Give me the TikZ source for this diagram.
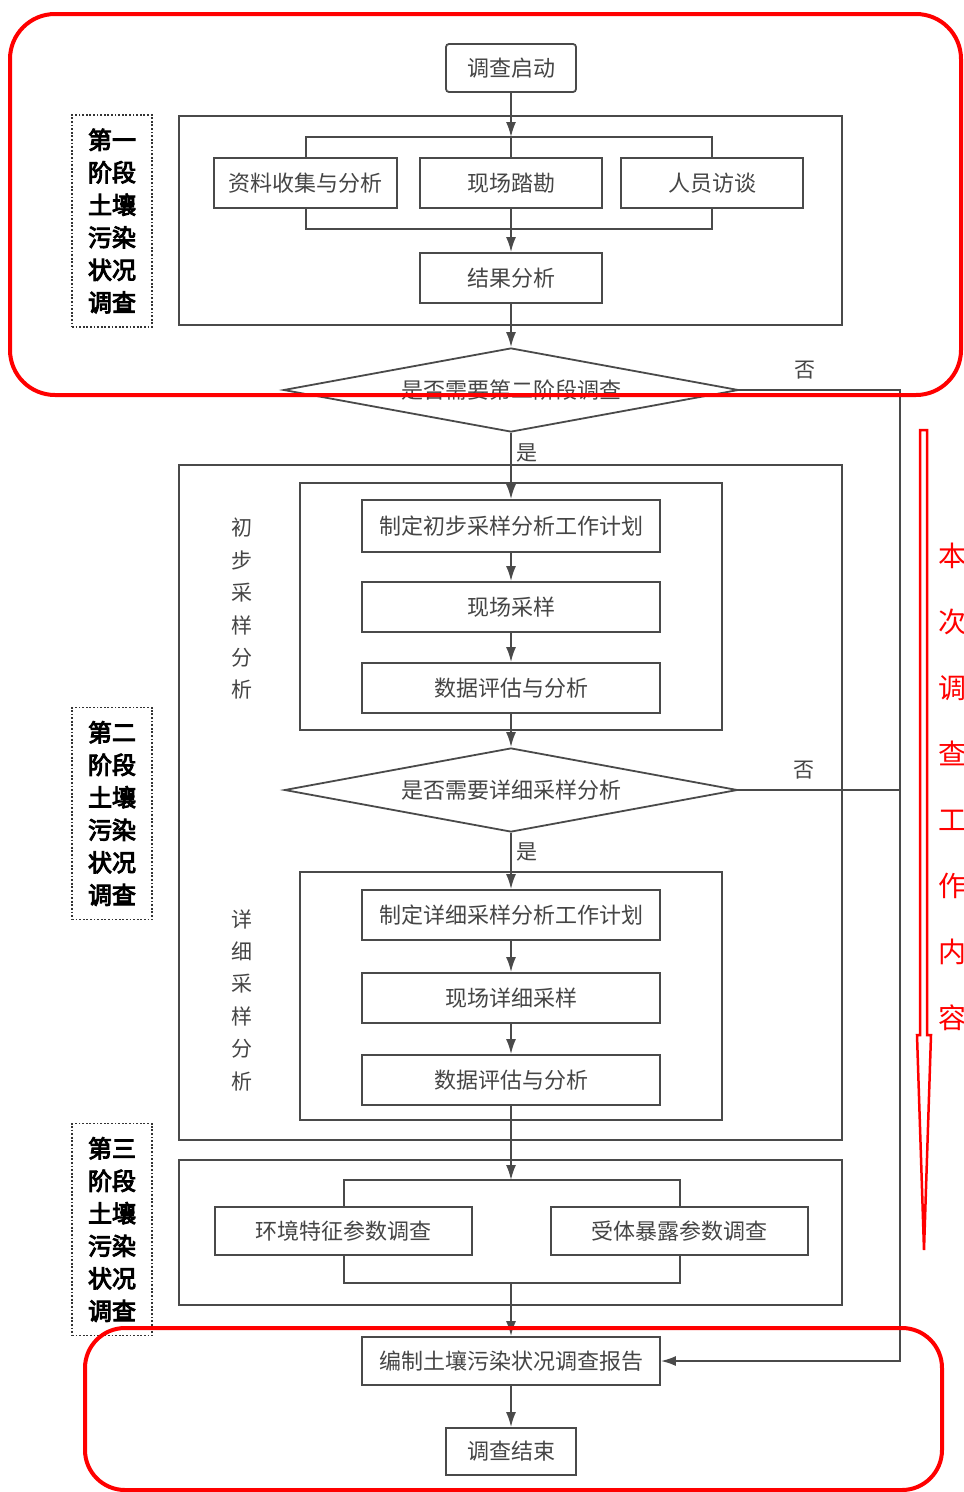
\documentclass[tikz,border=0pt]{standalone}
\usepackage{fontspec}
\setmainfont{Noto Sans CJK SC}
\newfontfamily\cjkb[FakeBold=4]{Noto Sans CJK SC}
\usetikzlibrary{shapes.geometric,arrows.meta}
\definecolor{lncol}{HTML}{4A4A4A}
\definecolor{txcol}{HTML}{454545}
\definecolor{rdcol}{HTML}{FF0000}
\begin{document}
\begin{tikzpicture}[x=1pt,y=-1pt,
  box/.style={draw=lncol, line width=1.8pt, fill=white, text=txcol,
    font=\fontsize{22}{26}\selectfont, inner sep=0pt, minimum height=50pt, minimum width=298pt},
  framebox/.style={draw=lncol, line width=1.8pt, inner sep=0pt},
  decision/.style={draw=lncol, line width=1.8pt, fill=white, diamond, aspect=5.4, inner sep=0pt,
    minimum width=455pt, minimum height=84pt, text=txcol, font=\fontsize{22}{26}\selectfont},
  lin/.style={draw=lncol, line width=1.8pt},
  arr/.style={draw=lncol, line width=1.8pt, -{Latex[length=15pt,width=10pt]}},
  stagelab/.style={draw=black!80, line width=1.8pt, dash pattern=on 1.8pt off 1.8pt,
    minimum width=80pt, minimum height=212pt, inner sep=0pt, align=center,
    font=\cjkb\fontsize{24}{32.5}\selectfont},
  vlab/.style={align=center, text=txcol, font=\fontsize{21}{32.4}\selectfont, inner sep=0pt},
  yn/.style={text=txcol, font=\fontsize{21}{24}\selectfont, inner sep=0pt},
  redbox/.style={draw=rdcol, line width=4pt}
]
\useasboundingbox (0,0) rectangle (964,1492);
\fill[white] (0,0) rectangle (964,1492);

% frames
\node[framebox, minimum width=663pt, minimum height=209pt] (s1) at (510.5,220.5) {};
\node[framebox, minimum width=663pt, minimum height=675pt] (s2) at (510.5,802.5) {};
\node[framebox, minimum width=422pt, minimum height=247pt] (in1) at (511,606.5) {};
\node[framebox, minimum width=422pt, minimum height=248pt] (in2) at (511,996) {};
\node[framebox, minimum width=663pt, minimum height=145pt] (s3) at (510.5,1232.5) {};

% brackets
\node[framebox, minimum width=406pt, minimum height=92pt] (br1) at (509,183) {};
\node[framebox, minimum width=336pt, minimum height=103pt] (br3) at (512,1231.5) {};

% nodes
\node[box, minimum width=130pt, minimum height=48pt, rounded corners=3pt] (start) at (511,68) {调查启动};
\node[box, minimum width=183pt] (zl) at (305.5,183) {资料收集与分析};
\node[box, minimum width=182pt] (xc) at (511,183) {现场踏勘};
\node[box, minimum width=182pt] (ry) at (712,183) {人员访谈};
\node[box, minimum width=182pt] (jg) at (511,278) {结果分析};
\node[decision] (d1) at (511,390) {是否需要第二阶段调查};
\node[box, minimum height=52pt] (p1) at (511,526) {制定初步采样分析工作计划};
\node[box] (p2) at (511,607) {现场采样};
\node[box] (p3) at (511,688) {数据评估与分析};
\node[decision, minimum width=453pt] (d2) at (511,790) {是否需要详细采样分析};
\node[box] (q1) at (511,915) {制定详细采样分析工作计划};
\node[box] (q2) at (511,998) {现场详细采样};
\node[box] (q3) at (511,1080) {数据评估与分析};
\node[box, minimum width=257pt, minimum height=48pt] (e1) at (343.5,1231) {环境特征参数调查};
\node[box, minimum width=257pt, minimum height=48pt] (e2) at (679.5,1231) {受体暴露参数调查};
\node[box, minimum height=48pt] (rep) at (511,1361) {编制土壤污染状况调查报告};
\node[box, minimum width=130pt, minimum height=47pt] (fin) at (511,1451.5) {调查结束};

% stage labels
\node[stagelab] (l1) at (112,221) {第一\\阶段\\土壤\\污染\\状况\\调查};
\node[stagelab] (l2) at (112,813.5) {第二\\阶段\\土壤\\污染\\状况\\调查};
\node[stagelab] (l3) at (112,1229.5) {第三\\阶段\\土壤\\污染\\状况\\调查};
\node[vlab] (v1) at (242,609) {初\\步\\采\\样\\分\\析};
\node[vlab] (v2) at (242,1000) {详\\细\\采\\样\\分\\析};

% connectors
\coordinate (b1t) at (511,137);
\coordinate (b1b) at (511,229);
\coordinate (b3t) at (511,1180);
\coordinate (b3b) at (511,1283);
\coordinate (no1) at (900,390);
\coordinate (no2) at (900,790);
\coordinate (no3) at (900,1361);
\draw[arr] (start.south) -- (b1t);
\draw[lin] (b1t) -- (xc.north);
\draw[lin] (xc.south) -- (b1b);
\draw[arr] (b1b) -- (jg.north);
\draw[arr] (jg.south) -- (d1.north);
\draw[arr] (d1.south) -- (p1.north);
\draw[arr] (p1.south) -- (p2.north);
\draw[arr] (p2.south) -- (p3.north);
\draw[arr] (p3.south) -- (d2.north);
\draw[arr] (d2.south) -- (q1.north);
\draw[arr] (q1.south) -- (q2.north);
\draw[arr] (q2.south) -- (q3.north);
\draw[arr] (q3.south) -- (b3t);
\draw[arr] (b3b) -- (rep.north);
\draw[arr] (rep.south) -- (fin.north);
\draw[arr] (d1.east) -- (no1) -- (no3) -- (rep.east);
\draw[lin] (d2.east) -- (no2);

\node[yn] (y1) at (527,453) {是};
\node[yn] (y2) at (527,852) {是};
\node[yn] (n1) at (805,370) {否};
\node[yn] (n2) at (804,770) {否};

% red annotations
\draw[redbox, rounded corners=45pt] (10,14) rectangle (961,395);
\draw[redbox, rounded corners=40pt] (85,1328) rectangle (942,1490);
\draw[draw=rdcol, line width=2.5pt, line join=miter] (920,430) -- (927,430) -- (927,1035) -- (931,1035) -- (924,1250) -- (917,1035) -- (920,1035) -- cycle;
\node[align=center, text=rdcol, font=\fontsize{28}{66}\selectfont, inner sep=0pt] (rt) at (952,786.5) {本\\次\\调\\查\\工\\作\\内\\容};
\end{tikzpicture}
\end{document}
